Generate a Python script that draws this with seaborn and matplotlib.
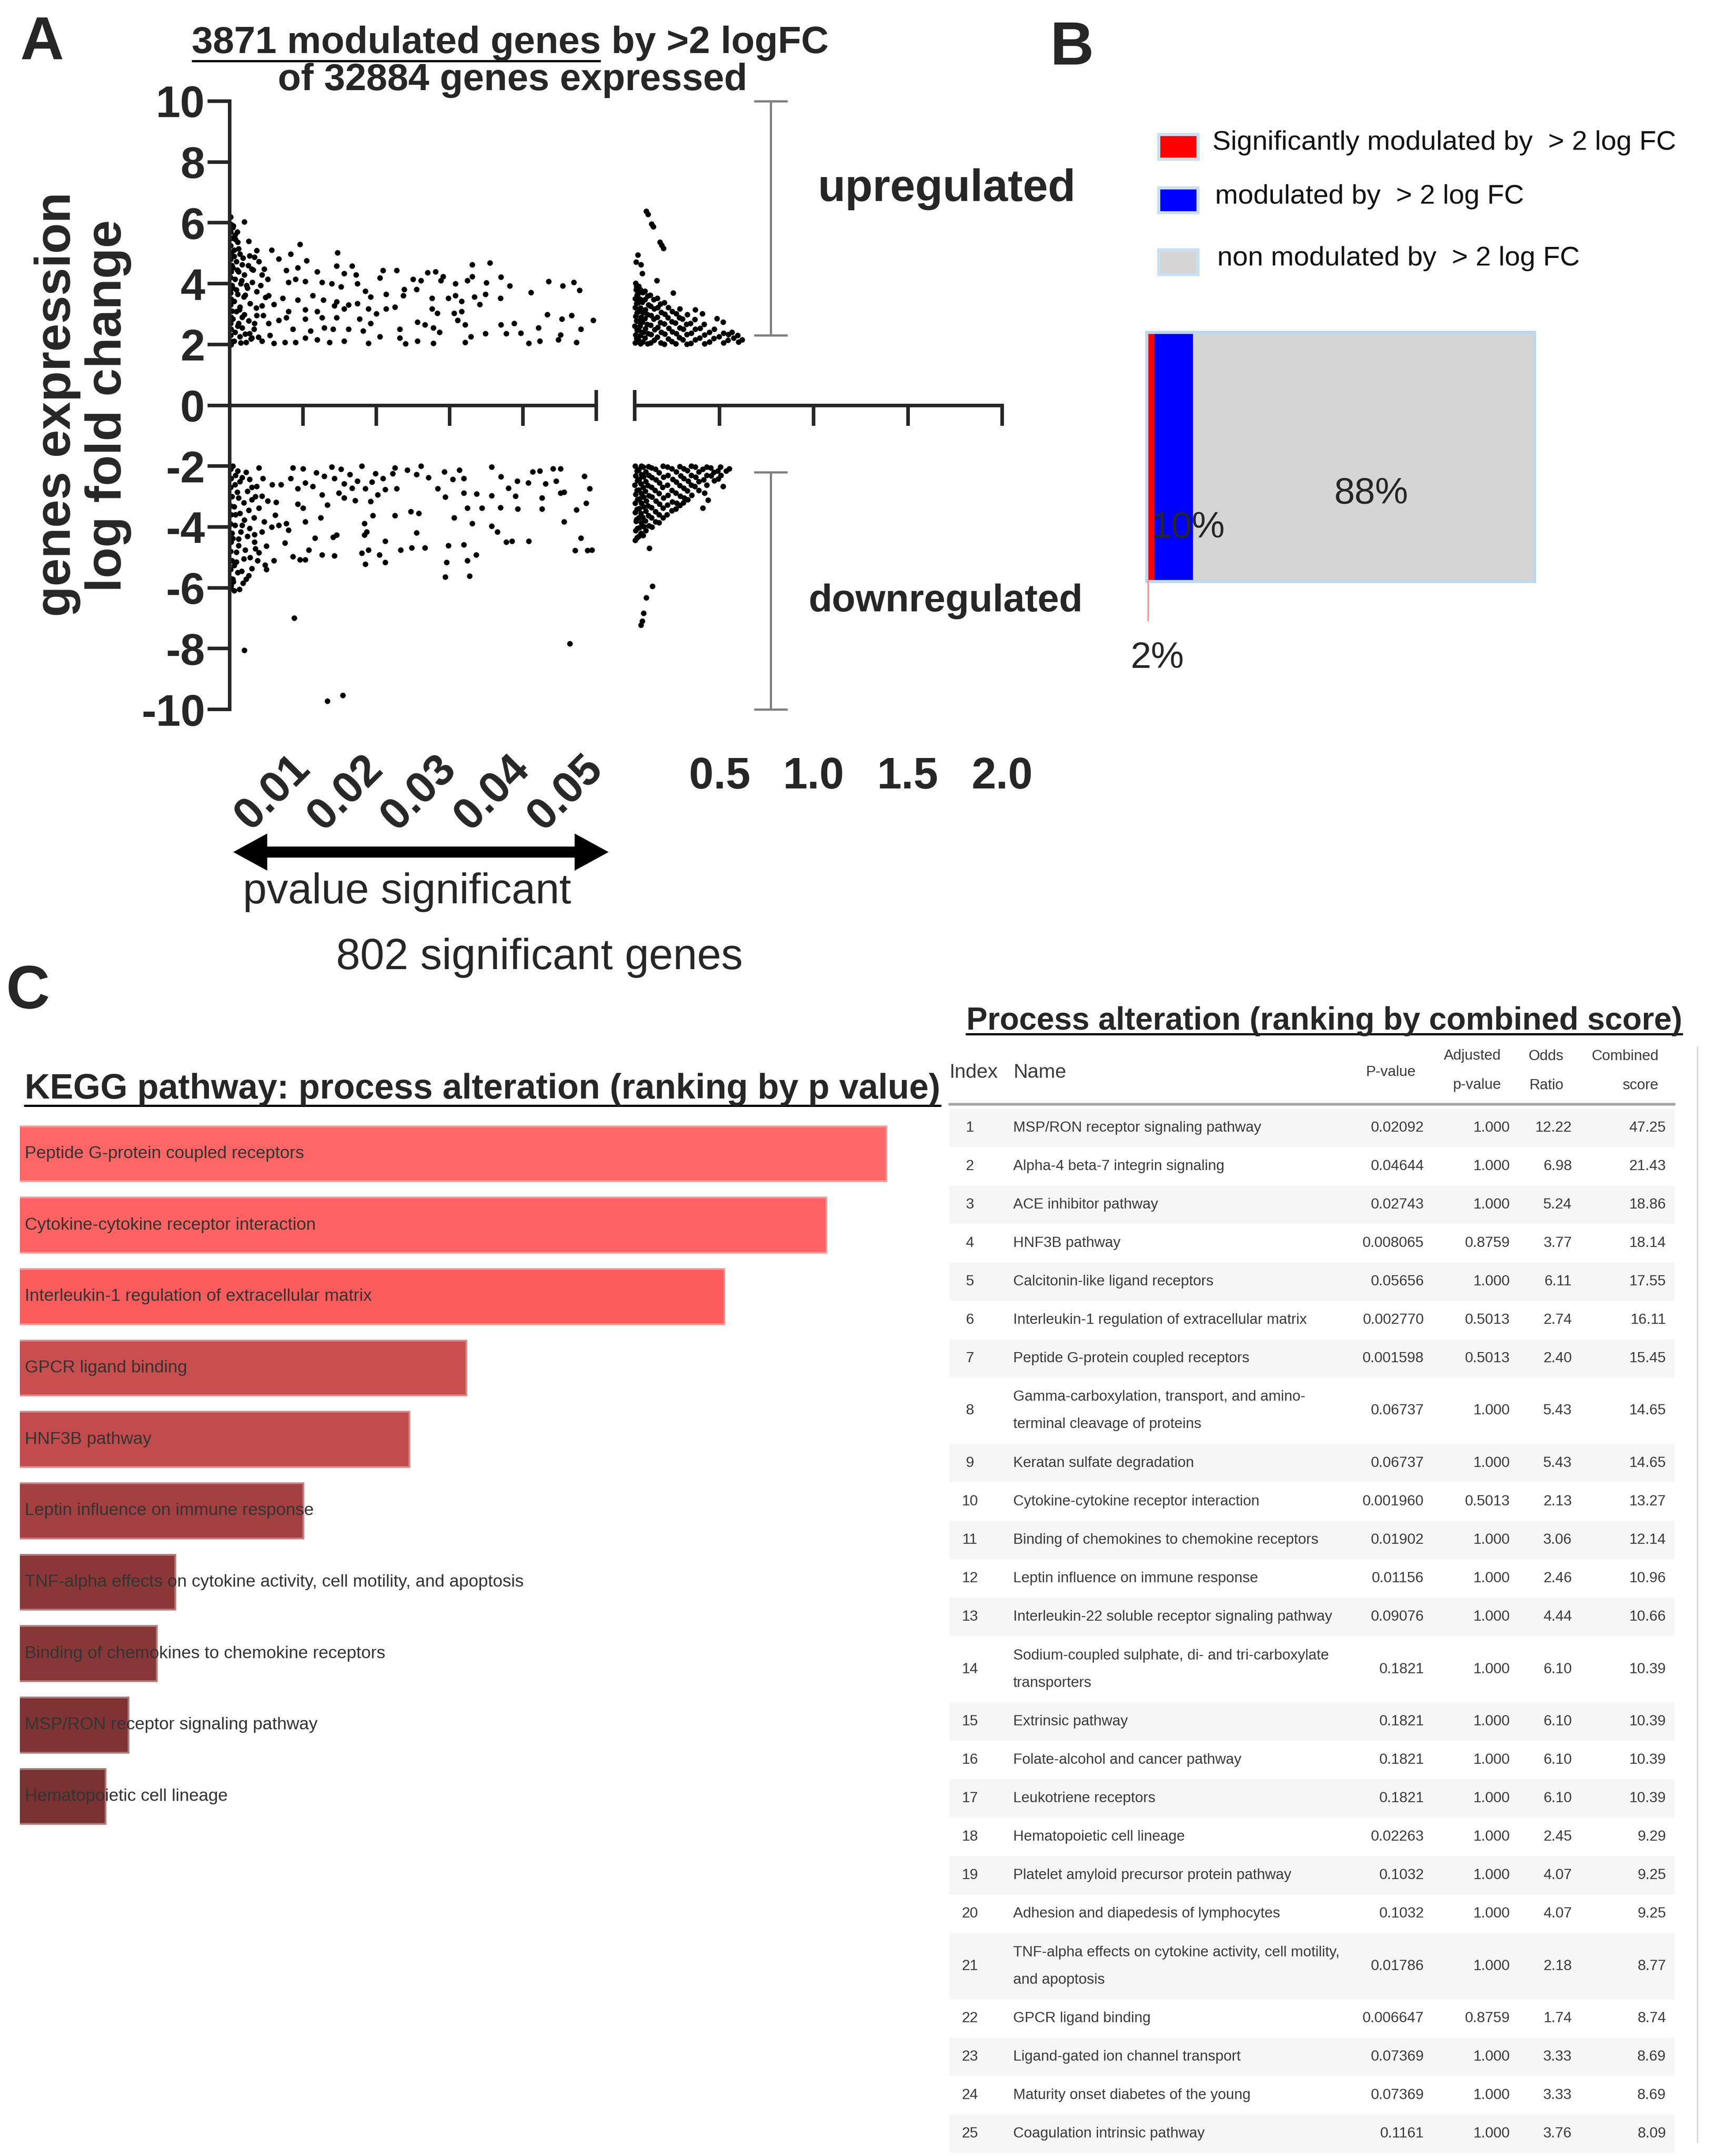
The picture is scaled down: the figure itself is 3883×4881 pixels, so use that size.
import numpy as np
import pandas as pd
import matplotlib
matplotlib.use("Agg")
import matplotlib.pyplot as plt
from matplotlib.patches import Rectangle, FancyArrow
from matplotlib.colors import to_rgb
import seaborn as sns

W, H, DPI = 3883, 4881, 72
ARIAL = ["Liberation Sans", "DejaVu Sans"]
NARROW = ["Liberation Sans Narrow", "Liberation Sans", "DejaVu Sans"]

# ---------------- A : significant genes (p < 0.05) ----------------
sig_up_p = [0.0020, 0.0026, 0.0096, 0.0057, 0.0147, 0.0037, 0.0027, 0.0083, 0.0105, 0.0067,
            0.0331, 0.0355, 0.0146, 0.0167, 0.0209, 0.0228, 0.0119, 0.0077, 0.0093, 0.0270,
            0.0281, 0.0291, 0.0331, 0.0370, 0.0205, 0.0156, 0.0172, 0.0080, 0.0103, 0.0126,
            0.0090, 0.0139, 0.0152, 0.0174, 0.0250, 0.0261, 0.0288, 0.0308, 0.0324, 0.0350,
            0.0382, 0.0435, 0.0454, 0.0469, 0.0477, 0.0411, 0.0185, 0.0213, 0.0238, 0.0255,
            0.0237, 0.0037, 0.0053, 0.0072, 0.0093, 0.0113, 0.0128, 0.0146, 0.0162, 0.0174,
            0.0192, 0.0276, 0.0298, 0.0308, 0.0316, 0.0334, 0.0349, 0.0369, 0.0341, 0.0044,
            0.0060, 0.0080, 0.0103, 0.0119, 0.0143, 0.0156, 0.0189, 0.0200, 0.0213, 0.0225,
            0.0276, 0.0283, 0.0306, 0.0316, 0.0037, 0.0077, 0.0103, 0.0126, 0.0146, 0.0177,
            0.0192, 0.0256, 0.0266, 0.0311, 0.0321, 0.0370, 0.0388, 0.0433, 0.0453, 0.0466,
            0.0496, 0.0053, 0.0067, 0.0086, 0.0110, 0.0129, 0.0141, 0.0162, 0.0182, 0.0232,
            0.0278, 0.0286, 0.0349, 0.0377, 0.0397, 0.0421, 0.0451, 0.0479, 0.0060, 0.0075,
            0.0090, 0.0103, 0.0119, 0.0136, 0.0156, 0.0189, 0.0205, 0.0232, 0.0240, 0.0256,
            0.0278, 0.0321, 0.0329, 0.0408, 0.0423, 0.0448, 0.0473, 0.0030, 0.0044,
            0.0004, 0.0007, 0.0011, 0.0006, 0.0014, 0.0009, 0.0017, 0.0004, 0.0012, 0.0020,
            0.0007, 0.0015, 0.0004, 0.0011, 0.0019, 0.0006, 0.0014, 0.0009, 0.0020, 0.0004,
            0.0012, 0.0017, 0.0007, 0.0014, 0.0006, 0.0022, 0.0002, 0.0027, 0.0034, 0.0024,
            0.0030, 0.0040, 0.0047, 0.0044, 0.0034,
            0.0001, 0.0002, 0.0001, 0.0003, 0.0001, 0.0002, 0.0001, 0.0003, 0.0002, 0.0001,
            0.0003, 0.0001, 0.0002, 0.0001, 0.0003, 0.0002, 0.0001, 0.0002, 0.0001, 0.0003,
            0.0008, 0.0012, 0.0018, 0.0025, 0.0010, 0.0016, 0.0023, 0.0031, 0.0009, 0.0021,
            0.0028, 0.0013, 0.0036, 0.0017, 0.0026, 0.0033, 0.0011, 0.0021, 0.0029, 0.0015,
            0.0005, 0.0010, 0.0006, 0.0032, 0.0042, 0.0049, 0.0046, 0.0055, 0.0052, 0.0039]
sig_up_fc = [6.03, 5.40, 5.30, 5.11, 5.02, 5.09, 4.92, 4.97, 4.75, 4.82,
             4.63, 4.68, 4.58, 4.58, 4.44, 4.44, 4.39, 4.44, 4.53, 4.36,
             4.39, 4.24, 4.24, 4.22, 4.19, 4.34, 4.29, 4.05, 4.07, 4.05,
             4.15, 4.00, 3.90, 4.00, 4.15, 4.10, 4.10, 4.00, 4.10, 4.03,
             3.93, 4.07, 3.93, 4.05, 3.78, 3.71, 3.76, 3.66, 3.81, 3.81,
             3.61, 3.74, 3.61, 3.52, 3.47, 3.61, 3.47, 3.40, 3.30, 3.35,
             3.57, 3.52, 3.52, 3.61, 3.42, 3.57, 3.66, 3.52, 3.32, 3.28,
             3.32, 3.08, 3.15, 3.08, 3.28, 3.18, 3.18, 3.01, 3.18, 3.23,
             3.18, 3.03, 3.03, 3.08, 2.96, 2.89, 2.84, 2.89, 2.89, 2.84,
             2.70, 2.74, 2.65, 2.79, 2.65, 2.65, 2.70, 2.99, 2.84, 2.96,
             2.79, 2.70, 2.79, 2.50, 2.45, 2.55, 2.50, 2.50, 2.45, 2.50,
             2.55, 2.41, 2.36, 2.36, 2.38, 2.55, 2.31, 2.50, 2.04, 2.07,
             2.07, 2.21, 2.16, 2.07, 2.12, 2.04, 2.26, 2.21, 2.02, 2.12,
             2.04, 2.07, 2.26, 2.04, 2.12, 2.16, 2.07, 2.21, 2.12,
             5.84, 5.60, 5.36, 5.11, 4.97, 4.73, 4.63, 4.53, 4.39, 4.29,
             4.15, 4.00, 3.86, 3.66, 3.57, 3.42, 3.23, 3.08, 2.99, 2.84,
             2.70, 2.55, 2.41, 2.26, 2.12, 2.07, 2.00, 2.36, 2.70, 3.86,
             4.48, 4.73, 4.48, 4.29, 4.87,
             6.20, 5.95, 5.70, 5.50, 5.25, 5.00, 4.80, 4.60, 4.40, 4.20,
             3.95, 3.70, 3.50, 3.30, 3.10, 2.90, 2.70, 2.50, 2.30, 2.10,
             5.45, 5.15, 4.85, 4.60, 4.45, 4.10, 3.95, 4.05, 3.80, 3.62,
             3.35, 3.15, 3.20, 2.90, 2.78, 2.50, 2.60, 2.35, 2.18, 2.05,
             5.90, 5.70, 4.90, 4.45, 3.95, 3.55, 2.95, 2.30, 4.15, 2.25]

sig_down_p = [0.0086, 0.0100, 0.0139, 0.0152, 0.0180, 0.0225, 0.0242, 0.0261, 0.0293, 0.0313,
              0.0357, 0.0413, 0.0423, 0.0441, 0.0451, 0.0118, 0.0129, 0.0164, 0.0199, 0.0222,
              0.0255, 0.0083, 0.0103, 0.0143, 0.0156, 0.0174, 0.0194, 0.0209, 0.0271, 0.0304,
              0.0319, 0.0370, 0.0392, 0.0407, 0.0431, 0.0445, 0.0484, 0.0070, 0.0093, 0.0113,
              0.0149, 0.0167, 0.0185, 0.0212, 0.0228, 0.0284, 0.0380, 0.0491, 0.0126, 0.0156,
              0.0171, 0.0192, 0.0202, 0.0294, 0.0319, 0.0337, 0.0357, 0.0390, 0.0426, 0.0451,
              0.0456, 0.0063, 0.0093, 0.0100, 0.0133, 0.0324, 0.0344, 0.0369, 0.0393, 0.0426,
              0.0473, 0.0486, 0.0062, 0.0103, 0.0124, 0.0195, 0.0225, 0.0247, 0.0258, 0.0306,
              0.0331, 0.0357, 0.0456, 0.0067, 0.0077, 0.0080, 0.0184, 0.0187, 0.0184, 0.0255,
              0.0365, 0.0034, 0.0044, 0.0116, 0.0141, 0.0146, 0.0212, 0.0377, 0.0385, 0.0408,
              0.0479, 0.0075, 0.0035, 0.0050, 0.0108, 0.0126, 0.0143, 0.0180, 0.0189, 0.0204,
              0.0233, 0.0248, 0.0266, 0.0298, 0.0319, 0.0336, 0.0471, 0.0488, 0.0494, 0.0086,
              0.0096, 0.0103, 0.0030, 0.0048, 0.0060, 0.0185, 0.0212, 0.0296, 0.0324, 0.0022,
              0.0294, 0.0327, 0.0088, 0.0020, 0.0464, 0.0133, 0.0154,
              0.0004, 0.0011, 0.0017, 0.0007, 0.0024, 0.0012, 0.0030, 0.0006, 0.0014, 0.0020,
              0.0007, 0.0015, 0.0004, 0.0012, 0.0009, 0.0019, 0.0006, 0.0011, 0.0004, 0.0002,
              0.0027, 0.0037, 0.0044, 0.0040, 0.0047, 0.0027, 0.0034,
              0.0001, 0.0002, 0.0001, 0.0003, 0.0001, 0.0002, 0.0001, 0.0003, 0.0002, 0.0001,
              0.0003, 0.0001, 0.0002, 0.0001,
              0.0008, 0.0014, 0.0022, 0.0030, 0.0010, 0.0019, 0.0026, 0.0035, 0.0008, 0.0017,
              0.0024, 0.0033, 0.0012, 0.0021, 0.0028, 0.0009, 0.0016, 0.0005, 0.0013, 0.0040,
              0.0045, 0.0052, 0.0057, 0.0050, 0.0038, 0.0026, 0.0018, 0.0006, 0.0040, 0.0058]
sig_down_fc = [-2.05, -2.08, -2.02, -2.10, -2.00, -2.05, -2.13, -2.00, -2.19, -2.13,
               -2.02, -2.19, -2.16, -2.08, -2.08, -2.21, -2.33, -2.27, -2.24, -2.24,
               -2.27, -2.41, -2.55, -2.41, -2.58, -2.49, -2.52, -2.41, -2.38, -2.44,
               -2.41, -2.35, -2.49, -2.55, -2.58, -2.49, -2.33, -2.60, -2.74, -2.66,
               -2.88, -2.72, -2.74, -2.77, -2.74, -2.74, -2.72, -2.74, -2.94, -3.05,
               -3.13, -3.16, -2.94, -3.02, -2.88, -2.91, -2.97, -2.99, -3.05, -2.88,
               -2.85, -3.19, -3.24, -3.38, -3.27, -3.38, -3.38, -3.36, -3.41, -3.41,
               -3.44, -3.22, -3.61, -3.83, -3.69, -3.63, -3.63, -3.49, -3.55, -3.69,
               -3.88, -3.97, -3.83, -3.94, -3.88, -4.11, -3.88, -4.16, -4.27, -4.19,
               -4.16, -4.25, -4.16, -4.36, -4.33, -4.27, -4.47, -4.50, -4.47, -4.47,
               -4.36, -4.52, -4.72, -4.63, -4.75, -4.91, -4.94, -4.86, -4.75, -4.91,
               -4.75, -4.69, -4.69, -4.61, -4.58, -4.91, -4.77, -4.77, -4.76, -4.97,
               -5.08, -5.08, -5.36, -5.25, -5.11, -5.22, -5.16, -5.16, -5.11, -5.72,
               -5.64, -5.61, -7.00, -8.06, -7.83, -9.72, -9.53,
               -2.00, -2.16, -2.38, -2.60, -2.83, -3.05, -3.10, -3.33, -3.55, -3.77,
               -3.94, -4.16, -4.38, -4.61, -4.83, -5.05, -5.27, -5.50, -5.72, -5.94,
               -2.44, -2.66, -2.99, -3.38, -3.83, -4.05, -4.50,
               -2.10, -2.40, -2.70, -3.00, -3.30, -3.60, -3.90, -4.20, -4.50, -4.80,
               -5.10, -5.40, -5.70, -6.00,
               -2.30, -2.50, -2.20, -2.70, -2.85, -3.20, -3.45, -3.00, -3.60, -3.95,
               -4.30, -3.70, -4.40, -4.75, -5.00, -5.15, -5.45, -5.80, -6.05, -4.85,
               -2.40, -3.15, -4.00, -5.40, -5.10, -5.60, -5.85, -6.10, -2.05, -2.60]

# ---------------- A : non significant genes (p 0.05 - 2, broken axis) ----------------
ns_up_p = [0.112, 0.120, 0.140, 0.148, 0.183, 0.193, 0.202, 0.066, 0.058, 0.083,
           0.090, 0.167, 0.253, 0.370, 0.409, 0.487, 0.518, 0.565, 0.596, 0.619,
           0.052, 0.054, 0.051, 0.055, 0.053, 0.052, 0.056, 0.054,
           0.068, 0.070, 0.067, 0.071, 0.069, 0.066, 0.072,
           0.092, 0.094, 0.090, 0.095, 0.091, 0.093,
           0.118, 0.121, 0.116, 0.119, 0.122, 0.117,
           0.152, 0.155, 0.150, 0.154, 0.151,
           0.188, 0.191, 0.186, 0.190, 0.187,
           0.228, 0.231, 0.226, 0.229,
           0.268, 0.271, 0.266, 0.270,
           0.305, 0.308, 0.303,
           0.348, 0.351, 0.346,
           0.395, 0.398,
           0.445, 0.447,
           0.498,
           0.545, 0.548,
           0.600,
           0.060, 0.061, 0.059, 0.062, 0.060, 0.061, 0.059,
           0.080, 0.081, 0.079, 0.082, 0.080, 0.078, 0.081,
           0.105, 0.106, 0.104, 0.107, 0.105, 0.103,
           0.135, 0.136, 0.134, 0.137, 0.135, 0.133,
           0.170, 0.171, 0.169, 0.172, 0.170,
           0.208, 0.209, 0.207, 0.210, 0.206,
           0.248, 0.249, 0.247, 0.250,
           0.287, 0.288, 0.286, 0.289,
           0.326, 0.327, 0.325, 0.328,
           0.370, 0.372, 0.368,
           0.420, 0.421, 0.419,
           0.470, 0.472,
           0.520, 0.522,
           0.575]
ns_up_fc = [6.38, 6.28, 5.96, 5.88, 5.36, 5.26, 5.17, 4.94, 4.72, 4.62,
            4.34, 4.11, 3.69, 3.14, 3.02, 2.85, 2.74, 2.40, 2.30, 2.15,
            2.05, 2.32, 2.61, 2.93, 3.22, 3.51, 3.80, 4.02,
            2.15, 2.48, 2.77, 3.08, 3.37, 3.66, 3.92,
            2.08, 2.41, 2.74, 3.04, 3.39, 3.71,
            2.02, 2.36, 2.66, 2.98, 3.31, 3.59,
            2.14, 2.49, 2.84, 3.18, 3.48,
            2.06, 2.41, 2.72, 3.06, 3.33,
            2.19, 2.54, 2.89, 3.22,
            2.03, 2.36, 2.71, 3.02,
            2.16, 2.51, 2.84,
            2.04, 2.38, 2.69,
            2.22, 2.53,
            2.09, 2.41,
            2.26,
            2.14, 2.33,
            2.08,
            2.20, 2.47, 2.78, 3.05, 3.35, 3.63, 3.90,
            2.02, 2.30, 2.60, 2.90, 3.20, 3.50, 3.80,
            2.22, 2.52, 2.85, 3.15, 3.48, 3.75,
            2.05, 2.33, 2.64, 2.95, 3.26, 3.62,
            2.24, 2.57, 2.90, 3.22, 3.52,
            2.01, 2.35, 2.68, 3.00, 3.38,
            2.10, 2.42, 2.75, 3.08,
            2.23, 2.55, 2.88, 3.18,
            2.01, 2.33, 2.66, 2.98,
            2.15, 2.50, 2.82,
            2.02, 2.32, 2.66,
            2.20, 2.50,
            2.05, 2.38,
            2.22]

ns_down_p = [0.144, 0.112, 0.097, 0.090, 0.083, 0.128,
             0.052, 0.054, 0.051, 0.055, 0.053, 0.052, 0.056, 0.054, 0.053,
             0.072, 0.074, 0.071, 0.075, 0.073, 0.070, 0.076, 0.072,
             0.095, 0.097, 0.094, 0.098, 0.096, 0.093, 0.099, 0.095,
             0.122, 0.125, 0.120, 0.124, 0.121, 0.123, 0.126,
             0.160, 0.163, 0.158, 0.162, 0.159, 0.161,
             0.200, 0.203, 0.198, 0.202, 0.199, 0.201,
             0.248, 0.251, 0.246, 0.250, 0.247,
             0.290, 0.293, 0.288, 0.291, 0.289,
             0.330, 0.333, 0.328, 0.331,
             0.370, 0.373, 0.368,
             0.412, 0.415, 0.420, 0.410,
             0.440,
             0.452, 0.455,
             0.490, 0.493,
             0.518, 0.534, 0.552,
             0.062, 0.063, 0.061, 0.064, 0.062, 0.060, 0.063, 0.061,
             0.084, 0.085, 0.083, 0.086, 0.084, 0.082, 0.085, 0.083,
             0.108, 0.109, 0.107, 0.110, 0.108, 0.106, 0.109,
             0.140, 0.141, 0.139, 0.142, 0.140, 0.138, 0.141,
             0.180, 0.181, 0.179, 0.182, 0.180, 0.178,
             0.224, 0.225, 0.223, 0.226, 0.224, 0.222,
             0.270, 0.271, 0.269, 0.272, 0.268,
             0.310, 0.311, 0.309, 0.312, 0.308,
             0.350, 0.351, 0.349, 0.352,
             0.390, 0.391, 0.389,
             0.432, 0.433, 0.431,
             0.470, 0.471,
             0.505, 0.506]
ns_down_fc = [-5.95, -6.32, -6.83, -7.10, -7.22, -4.70,
              -2.00, -2.31, -2.62, -2.93, -3.21, -3.52, -3.81, -4.12, -4.43,
              -2.12, -2.44, -2.78, -3.07, -3.39, -3.70, -4.02, -4.30,
              -2.03, -2.35, -2.69, -3.01, -3.34, -3.68, -3.99, -4.28,
              -2.01, -2.30, -2.64, -2.97, -3.31, -3.63, -3.96,
              -2.10, -2.45, -2.79, -3.14, -3.49, -3.83,
              -2.00, -2.36, -2.70, -3.05, -3.38, -3.69,
              -2.09, -2.44, -2.80, -3.18, -3.46,
              -2.01, -2.31, -2.64, -2.98, -3.29,
              -2.14, -2.49, -2.81, -3.10,
              -2.02, -2.36, -2.66,
              -2.10, -2.45, -2.89, -3.38,
              -3.12,
              -2.05, -2.31,
              -2.15, -2.42,
              -2.66, -2.15, -2.08,
              -2.16, -2.48, -2.80, -3.10, -3.42, -3.75, -4.05, -4.35,
              -2.00, -2.28, -2.58, -2.90, -3.22, -3.55, -3.86, -4.20,
              -2.18, -2.50, -2.82, -3.15, -3.48, -3.80, -4.12,
              -2.05, -2.38, -2.70, -3.02, -3.36, -3.70, -4.00,
              -2.22, -2.55, -2.90, -3.25, -3.60, -3.85,
              -2.03, -2.30, -2.62, -2.95, -3.28, -3.60,
              -2.18, -2.52, -2.88, -3.22, -3.40,
              -2.08, -2.40, -2.72, -3.05, -3.20,
              -2.00, -2.30, -2.62, -2.95,
              -2.18, -2.50, -2.80,
              -2.02, -2.30, -2.62,
              -2.20, -2.48,
              -2.02, -2.30]

left_xticks = [0.01, 0.02, 0.03, 0.04]
left_xlabels = ["0.01", "0.02", "0.03", "0.04", "0.05"]
right_xticks = [0.5, 1.0, 1.5, 2.0]
right_xlabels = ["0.5", "1.0", "1.5", "2.0"]
fc_ticks = [-10, -8, -6, -4, -2, 0, 2, 4, 6, 8, 10]
up_span = [2.3, 10]
down_span = [-10, -2.2]

# ---------------- B : share of modulated genes ----------------
share_labels = ["Significantly modulated by  > 2 log FC",
                "modulated by  > 2 log FC",
                "non modulated by  > 2 log FC"]
share_values = [2, 10, 88]
share_text = ["2%", "10%", "88%"]
share_colors = ["#ff0000", "#0000ff", "#d5d5d5"]

# ---------------- C : KEGG bars ----------------
kegg_terms = ["Peptide G-protein coupled receptors",
              "Cytokine-cytokine receptor interaction",
              "Interleukin-1 regulation of extracellular matrix",
              "GPCR ligand binding",
              "HNF3B pathway",
              "Leptin influence on immune response",
              "TNF-alpha effects on cytokine activity, cell motility, and apoptosis",
              "Binding of chemokines to chemokine receptors",
              "MSP/RON receptor signaling pathway",
              "Hematopoietic cell lineage"]
kegg_p = [0.001598, 0.001960, 0.002770, 0.006647, 0.008065,
          0.01156, 0.01786, 0.01902, 0.02092, 0.02263]
kegg_colors = ["#ff6666", "#ff6262", "#fd5c5c", "#c94e4e", "#c24b4b",
               "#a34040", "#8b3737", "#883737", "#7f3333", "#7a3131"]

# ---------------- C : table ----------------
tab_names = ["MSP/RON receptor signaling pathway",
             "Alpha-4 beta-7 integrin signaling",
             "ACE inhibitor pathway",
             "HNF3B pathway",
             "Calcitonin-like ligand receptors",
             "Interleukin-1 regulation of extracellular matrix",
             "Peptide G-protein coupled receptors",
             "Gamma-carboxylation, transport, and amino-\nterminal cleavage of proteins",
             "Keratan sulfate degradation",
             "Cytokine-cytokine receptor interaction",
             "Binding of chemokines to chemokine receptors",
             "Leptin influence on immune response",
             "Interleukin-22 soluble receptor signaling pathway",
             "Sodium-coupled sulphate, di- and tri-carboxylate\ntransporters",
             "Extrinsic pathway",
             "Folate-alcohol and cancer pathway",
             "Leukotriene receptors",
             "Hematopoietic cell lineage",
             "Platelet amyloid precursor protein pathway",
             "Adhesion and diapedesis of lymphocytes",
             "TNF-alpha effects on cytokine activity, cell motility,\nand apoptosis",
             "GPCR ligand binding",
             "Ligand-gated ion channel transport",
             "Maturity onset diabetes of the young",
             "Coagulation intrinsic pathway"]
tab_pval = ["0.02092", "0.04644", "0.02743", "0.008065", "0.05656", "0.002770", "0.001598",
            "0.06737", "0.06737", "0.001960", "0.01902", "0.01156", "0.09076", "0.1821",
            "0.1821", "0.1821", "0.1821", "0.02263", "0.1032", "0.1032", "0.01786",
            "0.006647", "0.07369", "0.07369", "0.1161"]
tab_adj = ["1.000", "1.000", "1.000", "0.8759", "1.000", "0.5013", "0.5013", "1.000",
           "1.000", "0.5013", "1.000", "1.000", "1.000", "1.000", "1.000", "1.000", "1.000",
           "1.000", "1.000", "1.000", "1.000", "0.8759", "1.000", "1.000", "1.000"]
tab_odds = ["12.22", "6.98", "5.24", "3.77", "6.11", "2.74", "2.40", "5.43", "5.43", "2.13",
            "3.06", "2.46", "4.44", "6.10", "6.10", "6.10", "6.10", "2.45", "4.07", "4.07",
            "2.18", "1.74", "3.33", "3.33", "3.76"]
tab_comb = ["47.25", "21.43", "18.86", "18.14", "17.55", "16.11", "15.45", "14.65", "14.65",
            "13.27", "12.14", "10.96", "10.66", "10.39", "10.39", "10.39", "10.39", "9.29",
            "9.25", "9.25", "8.77", "8.74", "8.69", "8.69", "8.09"]


def px_rect(x0, y0, x1, y1):
    # rectangle given in pixels of the picture (origin top-left)
    return [x0 / W, 1 - y1 / H, (x1 - x0) / W, (y1 - y0) / H]


def fit(t, target, dim="w"):
    bb = t.get_window_extent(renderer=R)
    cur = bb.width if dim == "w" else bb.height
    t.set_fontsize(t.get_fontsize() * target / cur)
    return t


sns.set_theme(style="white")
plt.rcParams["font.family"] = ARIAL
plt.rcParams["axes.linewidth"] = 8

fig = plt.figure(figsize=(W / DPI, H / DPI), dpi=DPI)
fig.patch.set_facecolor("white")
R = fig.canvas.get_renderer()

# overlay in picture pixels for labels and annotations
ov = fig.add_axes([0, 0, 1, 1], zorder=5)
ov.set_xlim(0, W)
ov.set_ylim(H, 0)
ov.axis("off")

# ======================= Panel A =======================
left = pd.DataFrame({"p": sig_up_p + sig_down_p, "fc": sig_up_fc + sig_down_fc})
right = pd.DataFrame({"p": ns_up_p + ns_down_p, "fc": ns_up_fc + ns_down_fc})

ax_l = fig.add_axes(px_rect(520, 229, 1350, 1606))
ax_r = fig.add_axes(px_rect(1437, 229, 2269, 1606))
sns.scatterplot(data=left, x="p", y="fc", ax=ax_l, color="black", s=160,
                linewidth=0, legend=False, clip_on=False)
sns.scatterplot(data=right, x="p", y="fc", ax=ax_r, color="black", s=160,
                linewidth=0, legend=False, clip_on=False)
ax_l.set_xlim(0, 0.05)
ax_r.set_xlim(0.05, 2.0)
for ax in (ax_l, ax_r):
    ax.set_ylim(-10, 10)
    ax.patch.set_alpha(0)
    ax.set_xlabel("")
    ax.set_ylabel("")
    ax.spines["top"].set_visible(False)
    ax.spines["right"].set_visible(False)
    ax.spines["bottom"].set_position(("data", 0))
    ax.spines["bottom"].set_linewidth(8)
    ax.set_xticks([0.05], minor=True)
    ax.tick_params(axis="x", which="major", direction="out", length=46, width=8,
                   labelbottom=False, bottom=True)
    ax.tick_params(axis="x", which="minor", direction="inout", length=70, width=8,
                   bottom=True)
ax_l.set_xticks(left_xticks)
ax_r.set_xticks(right_xticks)
ax_r.spines["left"].set_visible(False)
ax_r.tick_params(axis="y", left=False, labelleft=False)
ax_l.spines["left"].set_linewidth(8)
ax_l.set_yticks(fc_ticks, [str(v) for v in fc_ticks], fontsize=100,
                fontweight="bold", family=NARROW)
ax_l.tick_params(axis="y", direction="out", length=50, width=8, pad=6, left=True)

sec_l = ax_l.secondary_xaxis(-0.087)
sec_l.set_xticks(left_xticks + [0.05], left_xlabels, fontsize=100, fontweight="bold",
                 family=NARROW, rotation=45, ha="right", va="center",
                 rotation_mode="anchor")
sec_r = ax_r.secondary_xaxis(-0.077)
sec_r.set_xticks(right_xticks, right_xlabels, fontsize=100, fontweight="bold",
                 family=NARROW)
for sec in (sec_l, sec_r):
    sec.tick_params(length=0, pad=0)
    for sp in sec.spines.values():
        sp.set_visible(False)

# brackets up / down
bx = 0.772
for span in (up_span, down_span):
    eb = ax_r.errorbar([bx], [span[0]], yerr=[[0], [span[1] - span[0]]], fmt="none",
                       ecolor="#808080", elinewidth=5, capsize=38, capthick=5)
    for child in eb.get_children():
        child.set_clip_on(False)

fit(ov.text(1852, 428, "upregulated", fontsize=100, fontweight="bold",
            ha="left", va="center"), 584)
fit(ov.text(1830, 1361, "downregulated", fontsize=90, fontweight="bold",
            ha="left", va="center"), 622)

t1 = fit(ov.text(1155, 98, "3871 modulated genes by >2 logFC", fontsize=88,
                 fontweight="bold", ha="center", va="center"), 1443)
part = ov.text(0, 0, "3871 modulated genes", fontsize=t1.get_fontsize(), fontweight="bold")
w_part = part.get_window_extent(renderer=R).width
part.remove()
x0 = t1.get_window_extent(renderer=R).x0
ov.plot([x0, x0 + w_part], [138, 138], color="black", lw=5, solid_capstyle="butt")
fit(ov.text(1160, 182, "of 32884 genes expressed", fontsize=88, fontweight="bold",
            ha="center", va="center"), 1064)

ov.text(95, 98, "A", fontsize=137, fontweight="bold", ha="center", va="center")
fit(ov.text(130, 915, "genes expression", fontsize=120, fontweight="bold", rotation=90,
            ha="center", va="center"), 961, "h")
fit(ov.text(245, 919, "log fold change", fontsize=120, fontweight="bold", rotation=90,
            ha="center", va="center"), 842, "h")

# double arrow under the significant range
for end in (528, 1378):
    ov.add_patch(FancyArrow(953, 1929, end - 953, 0, width=25, head_width=84,
                            head_length=77, length_includes_head=True,
                            color="black", lw=0))
fit(ov.text(922, 2020, "pvalue significant", fontsize=110, family=NARROW,
            ha="center", va="center"), 743)
fit(ov.text(1221, 2169, "802 significant genes", fontsize=110, family=NARROW,
            ha="center", va="center"), 920)

# ======================= Panel B =======================
ov.text(2427, 110, "B", fontsize=137, fontweight="bold", ha="center", va="center")
ax_b = fig.add_axes(px_rect(2596, 752, 3474, 1316))
starts = np.concatenate([[0], np.cumsum(share_values)[:-1]])
ax_b.barh([0] * len(share_values), share_values, left=starts, color=share_colors,
          height=1.0, linewidth=0)
ax_b.set_xlim(0, 100)
ax_b.set_ylim(-0.5, 0.5)
ax_b.set_xticks([])
ax_b.set_yticks([])
for sp in ax_b.spines.values():
    sp.set_visible(True)
    sp.set_color("#bdd7ee")
    sp.set_linewidth(7)

pct = []
for txt, (x, y) in zip(share_text, [(2620, 1490), (2690, 1195), (3104, 1118)]):
    pct.append(ov.text(x, y, txt, fontsize=100, family=NARROW, ha="center", va="center"))
fit(pct[2], 168)
for t in pct:
    t.set_fontsize(pct[2].get_fontsize())
ov.plot([2599, 2599], [1312, 1405], color="#ff8c8c", lw=3)

legend_y = [332, 453, 593]
legend_x = [2745, 2751, 2756]
leg_size = None
for lab, col, y, x in zip(share_labels, share_colors, legend_y, legend_x):
    ov.add_patch(Rectangle((2623, y - 28), 89, 56, facecolor=col,
                           edgecolor="#c8e0f6", lw=7))
    t = ov.text(x, y - 8, lab, fontsize=60, ha="left", va="center", color="#111111")
    if leg_size is None:
        fit(t, 1047)
        leg_size = t.get_fontsize()
    t.set_fontsize(leg_size)

# ======================= Panel C : bars =======================
ov.text(63, 2247, "C", fontsize=137, fontweight="bold", ha="center", va="center")
kt = fit(ov.text(56, 2466, "KEGG pathway: process alteration (ranking by p value)",
                 fontsize=76, fontweight="bold", ha="left", va="center"), 2070)
bb = kt.get_window_extent(renderer=R)
ov.plot([bb.x0, bb.x1], [2503, 2503], color="black", lw=5)

kegg = pd.DataFrame({"term": kegg_terms, "score": -np.log10(kegg_p)})
ax_c = fig.add_axes(px_rect(45, 2531, 2130, 4148))
sns.barplot(data=kegg, x="score", y="term", hue="term", palette=kegg_colors,
            legend=False, width=0.77, ax=ax_c, linewidth=4, saturation=1)
for patch, col in zip(ax_c.patches, kegg_colors):
    r, g, b = to_rgb(col)
    patch.set_facecolor(col)
    patch.set_edgecolor((r + (1 - r) * 0.35, g + (1 - g) * 0.35, b + (1 - b) * 0.35))
x_lo = 1.519
ax_c.set_xlim(x_lo, x_lo + (2130 - 45) / 1536)
ax_c.axis("off")
bar_texts = [ax_c.text(x_lo + 11 / 1536, i, term, va="center", ha="left",
                       fontsize=50, family=NARROW, color="#333333")
             for i, term in enumerate(kegg_terms)]
fit(bar_texts[6], 1129)
for t in bar_texts:
    t.set_fontsize(bar_texts[6].get_fontsize())

# ======================= Panel C : table =======================
tt = fit(ov.text(2998, 2312, "Process alteration (ranking by combined score)", fontsize=70,
                 fontweight="bold", ha="center", va="center"), 1619)
bb = tt.get_window_extent(renderer=R)
ov.plot([bb.x0, bb.x1], [2341, 2341], color="black", lw=5)

probe = fit(ov.text(0, 0, tab_names[12], fontsize=40, family=NARROW), 723)
TF = probe.get_fontsize()
probe.remove()
TC = "#3a3a3a"
hdr = dict(family=NARROW, color=TC, fontsize=TF, va="center")
ov.text(2150, 2428, "Index", ha="left", **dict(hdr, fontsize=TF * 1.35))
ov.text(2294, 2428, "Name", ha="left", **dict(hdr, fontsize=TF * 1.35))
ov.text(3205, 2428, "P-value", ha="right", **hdr)
for x, top, bottom in [(3399, "Adjusted", "p-value"), (3540, "Odds", "Ratio"),
                       (3755, "Combined", "score")]:
    ov.text(x, 2391, top, ha="right", **hdr)
    ov.text(x, 2457, bottom, ha="right", **hdr)
ov.plot([2150, 3791], [2500, 2500], color="#a6a6a6", lw=6)
ov.plot([3843, 3843], [2370, 4850], color="#d4d4d4", lw=3)

cell = dict(family=NARROW, color=TC, fontsize=TF, va="center")
y = 2510
for i, name in enumerate(tab_names):
    two = "\n" in name
    h = 150 if two else 87
    if i % 2 == 0:
        ov.add_patch(Rectangle((2150, y), 1641, h, facecolor="#f6f6f6", lw=0, zorder=0))
    yc = y + h / 2
    ov.text(2196, yc, str(i + 1), ha="center", **cell)
    if two:
        l1, l2 = name.split("\n")
        ov.text(2294, yc - 31, l1, ha="left", **cell)
        ov.text(2294, yc + 31, l2, ha="left", **cell)
    else:
        ov.text(2294, yc, name, ha="left", **cell)
    ov.text(3224, yc, tab_pval[i], ha="right", **cell)
    ov.text(3419, yc, tab_adj[i], ha="right", **cell)
    ov.text(3559, yc, tab_odds[i], ha="right", **cell)
    ov.text(3772, yc, tab_comb[i], ha="right", **cell)
    y += h

fig.savefig("out.png", dpi=DPI, facecolor="white")
